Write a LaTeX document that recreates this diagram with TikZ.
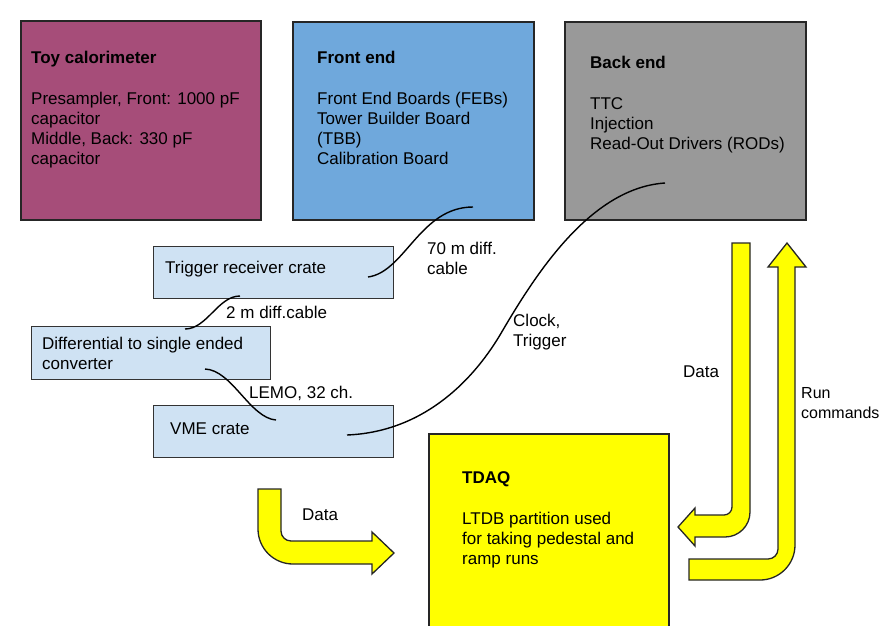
\documentclass[tikz,border=0pt]{standalone}
\usepackage{fontspec}
\setmainfont{Liberation Sans}
\usetikzlibrary{positioning}

\definecolor{toymag}{HTML}{A64D79}
\definecolor{feblue}{HTML}{6FA8DC}
\definecolor{begray}{HTML}{999999}
\definecolor{cratebl}{HTML}{CFE2F3}
\definecolor{tdaqyel}{HTML}{FFFF00}

\begin{document}
\begin{tikzpicture}[x=1pt,y=-1pt,
  font=\fontsize{17}{20}\selectfont,
  blk/.style={draw=black!85,line width=1.6pt,anchor=north west,inner sep=0pt},
  crate/.style={draw=black!80,line width=1.2pt,fill=cratebl,anchor=north west,
                inner sep=0pt,minimum width=240pt,minimum height=52pt},
  txt/.style={anchor=north west,inner sep=0pt,align=left},
  cable/.style={line width=1.4pt},
  fatarrow/.style={fill=tdaqyel,draw=black!85,line width=1.3pt,line join=miter}]
\clip (0,0) rectangle (880,625);
% boxes
\node[blk,fill=toymag,minimum width=240pt,minimum height=199pt] (toy) at (20,20) {};
\node[blk,fill=feblue,minimum width=241pt,minimum height=198pt] (fe) at (292,21) {};
\node[blk,fill=begray,minimum width=241pt,minimum height=198pt] (be) at (564,21) {};
\node[crate] (trig) at (153,246) {};
\node[crate,minimum width=239pt,minimum height=53pt] (conv) at (31,326) {};
\node[crate] (vme) at (153,405) {};
\node[blk,fill=tdaqyel,minimum width=240pt,minimum height=210pt] (tdaq) at (428,433) {};
% box texts
\node[txt] (toytxt) at (31,51) {\textbf{Toy calorimeter}\\[21pt]
  Presampler, Front: 1000 pF\\ capacitor\\ Middle, Back: 330 pF\\ capacitor};
\node[txt] (fetxt) at (317,51) {\textbf{Front end}\\[21pt]
  Front End Boards (FEBs)\\ Tower Builder Board\\ (TBB)\\ Calibration Board};
\node[txt] (betxt) at (590,56) {\textbf{Back end}\\[21pt]
  TTC\\ Injection\\ Read-Out Drivers (RODs)};
\node[txt] (tdaqtxt) at (462,471) {\textbf{TDAQ}\\[21pt]
  LTDB partition used\\ for taking pedestal and\\ ramp runs};
\node[txt] (trigtxt) at (165,261) {Trigger receiver crate};
\node[txt] (convtxt) at (42,337) {Differential to single ended\\ converter};
\node[txt] (vmetxt) at (170,423) {VME crate};
% cables
\coordinate (trigA) at (368,277);
\coordinate (feA) at (473,207);
\coordinate (trigB) at (240,296);
\coordinate (convA) at (185,329);
\coordinate (convB) at (205,369);
\coordinate (vmeA) at (276,420);
\coordinate (vmeB) at (347,435);
\coordinate (beA) at (665,183);
\draw[cable] (trigA) .. controls (405,272) and (420,207) .. (feA);
\draw[cable] (trigB) .. controls (218,296) and (207,329) .. (convA);
\draw[cable] (convB) .. controls (232,370) and (250,418) .. (vmeA);
\draw[cable] (vmeB) .. controls (420,432) and (470,385) .. (500,335)
  .. controls (535,275) and (590,188) .. (beA);
\node[txt] (l70) at (427,242) {70 m diff.\\ cable};
\node[txt] (l2) at (226,306) {2 m diff.cable};
\node[txt] (llemo) at (249,386) {LEMO, 32 ch.};
\node[txt] (lclk) at (513,314) {Clock,\\ Trigger};
% fat arrows
\filldraw[fatarrow] (258,489) -- (281,489) [rounded corners=10pt] -- (281,541)
  [sharp corners] -- (372,541) -- (372,532) -- (394,553) -- (372,574) -- (372,564)
  [rounded corners=35pt] -- (258,564) [sharp corners] -- cycle;
\filldraw[fatarrow] (732,243) -- (750,243) [rounded corners=25pt] -- (750,537)
  [sharp corners] -- (695,537) -- (695,546) -- (678,527) -- (695,508) -- (695,515)
  [rounded corners=8pt] -- (732,515) [sharp corners] -- cycle;
\filldraw[fatarrow] (787,243) -- (806,267) -- (795,267) [rounded corners=35pt]
  -- (795,580) [sharp corners] -- (689,580) -- (689,559) [rounded corners=10pt]
  -- (778,559) [sharp corners] -- (778,267) -- (768,267) -- cycle;
\node[txt] (ldata1) at (302,509) {Data};
\node[txt] (ldata2) at (683,366) {Data};
\node[txt,font=\fontsize{16}{20}\selectfont] (lrun) at (801,387) {Run\\ commands};
\end{tikzpicture}
\end{document}
